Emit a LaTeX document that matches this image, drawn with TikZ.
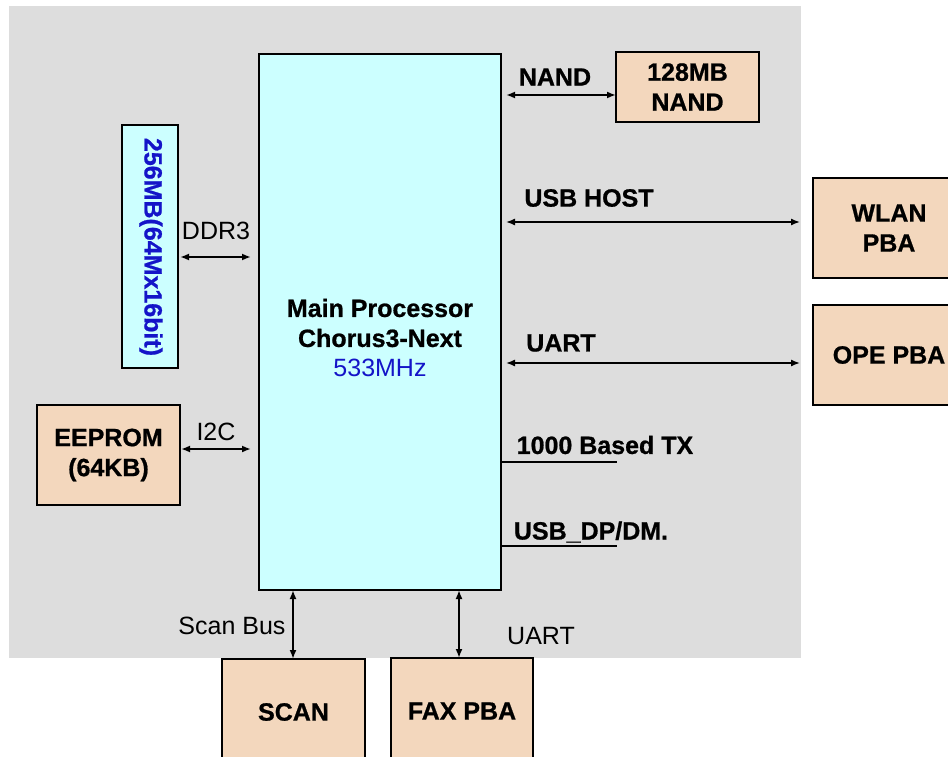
\documentclass[tikz,border=0pt]{standalone}
\usepackage{fontspec}
\setmainfont{Liberation Sans}[BoldFeatures={FakeBold=0.8}]
\usetikzlibrary{arrows.meta}
\definecolor{bggray}{RGB}{221,221,221}
\definecolor{cyanfill}{RGB}{204,255,255}
\definecolor{peach}{RGB}{243,215,189}
\definecolor{freqblue}{RGB}{20,20,200}
\begin{document}
\begin{tikzpicture}[x=1pt,y=-1pt,
  box/.style={draw=black,line width=2pt,inner sep=0pt,outer sep=0pt,align=center,
    font=\fontsize{25}{30}\selectfont\bfseries},
  chip/.style={box,fill=cyanfill},
  board/.style={box,fill=peach},
  blbl/.style={font=\fontsize{25}{30}\selectfont\bfseries,inner sep=0pt,align=center},
  rlbl/.style={font=\fontsize{25}{30}\selectfont,inner sep=0pt,align=center},
  bus/.style={line width=2.5pt,{Latex[length=9pt,width=7pt]}-{Latex[length=9pt,width=7pt]}},
  thinbus/.style={line width=1.4pt,{Latex[length=9pt,width=7pt]}-{Latex[length=9pt,width=7pt]}},
  wire/.style={line width=1.6pt}
]
\useasboundingbox (0,0) rectangle (948,757);
\fill[bggray] (9,6) rectangle (801,658);

% main processor
\node[chip,minimum width=242pt,minimum height=536pt] (main) at (380,322) {};
\node[blbl] (mainlbl) at (380,338) {Main Processor\\Chorus3-Next\\\mdseries\color{freqblue}533MHz};

% memory
\node[chip,minimum width=56pt,minimum height=243pt] (ddr) at (150,246.5) {};
\node[blbl,rotate=-90,text=freqblue] (ddrlbl) at (151,247) {256MB(64Mx16bit)};
\node[board,minimum width=143pt,minimum height=100pt] (eeprom) at (108.5,455) {EEPROM\\(64KB)};
\node[board,minimum width=143pt,minimum height=70pt] (nand) at (687.5,87) {128MB\\NAND};

% right side boards
\node[board,minimum width=152pt,minimum height=100pt] (wlan) at (889,228) {WLAN\\PBA};
\node[board,minimum width=152pt,minimum height=100pt] (ope) at (889,355) {OPE PBA};

% bottom boards
\node[board,minimum width=143pt,minimum height=106pt] (scan) at (293.5,712) {SCAN};
\node[board,minimum width=142pt,minimum height=106pt] (fax) at (462,711) {FAX PBA};

% connectors
\draw[bus,shorten <=2pt,shorten >=8pt] (ddr.east |- 0,257) -- (main.west |- 0,257);
\node[rlbl] (ddr3lbl) at (216,231) {DDR3};
\draw[bus,shorten <=1pt,shorten >=8pt] (eeprom.east |- 0,449) -- (main.west |- 0,449);
\node[rlbl] (i2clbl) at (216,432) {I2C};
\draw[bus,line width=1.8pt,shorten <=5pt] (main.east |- 0,95) -- (nand.west |- 0,95);
\node[blbl] (nandlbl) at (555,77) {NAND};
\draw[thinbus,shorten <=5pt,shorten >=13pt] (main.east |- 0,222) -- (wlan.west |- 0,222);
\node[blbl] (usbhlbl) at (589,198) {USB HOST};
\draw[thinbus,shorten <=5pt,shorten >=13pt] (main.east |- 0,363) -- (ope.west |- 0,363);
\node[blbl] (uartr) at (561,343) {UART};

\coordinate (txend) at (617,462);
\draw[wire] (main.east |- txend) -- (txend);
\node[blbl] (txlbl) at (605,445) {1000 Based TX};
\coordinate (usbend) at (617,546);
\draw[wire] (main.east |- usbend) -- (usbend);
\node[blbl] (usbdplbl) at (591,532) {USB\_DP/DM.};

\draw[bus,line width=2pt] (main.south -| 293,0) -- (scan.north -| 293,0);
\node[rlbl] (scanbus) at (232,626) {Scan Bus};
\draw[bus,line width=2pt] (main.south -| 459,0) -- (fax.north -| 459,0);
\node[rlbl] (uartb) at (541,636) {UART};
\end{tikzpicture}
\end{document}
